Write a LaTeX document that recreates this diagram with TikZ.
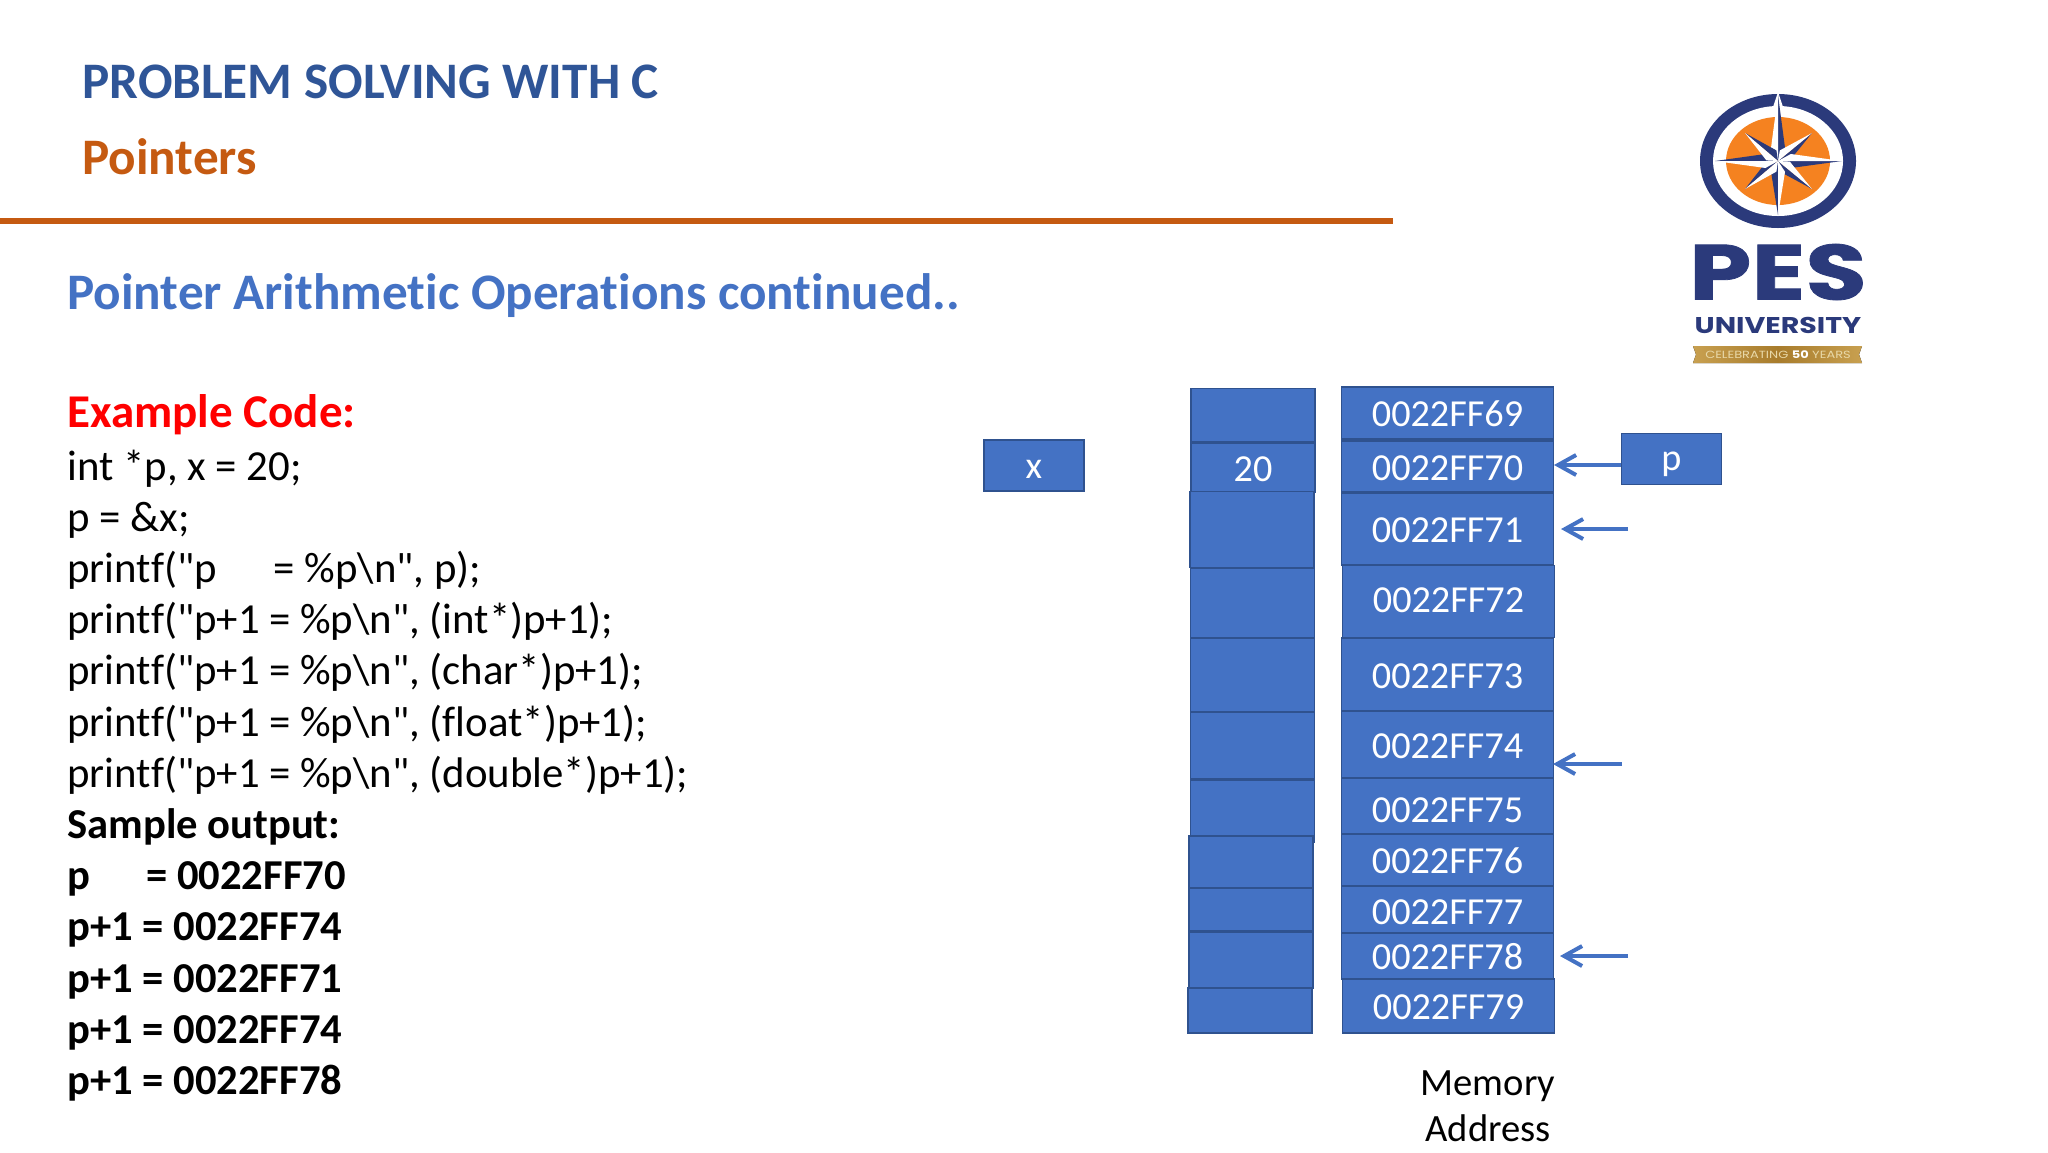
\documentclass[tikz,border=0pt]{standalone}
\usepackage{fontspec}
\newfontfamily\bodyfont{Carlito}[Ligatures=NoCommon]
\newfontfamily\pesfont{Poppins}[FakeStretch=1.28,FakeBold=1]
\newfontfamily\univfont{Poppins}[FakeStretch=1.25]
\usetikzlibrary{arrows.meta}
\definecolor{cTitle}{HTML}{2F5597}
\definecolor{cSub}{HTML}{C55A11}
\definecolor{cHead}{HTML}{4472C4}
\definecolor{cCell}{HTML}{4472C4}
\definecolor{cEdge}{HTML}{2F528F}
\definecolor{cNavy}{HTML}{2B3A7B}
\definecolor{cOrange}{HTML}{F58220}
\definecolor{cGoldA}{HTML}{C8A050}
\definecolor{cGoldB}{HTML}{A87C2C}
\definecolor{cGoldC}{HTML}{E8D8A8}
\tikzset{
  cell/.style={draw=cEdge, line width=0.6pt, fill=cCell, text=white, inner sep=0pt, text height=13.5pt, text depth=0pt,
    font=\bodyfont\fontsize{19.1}{23}\selectfont},
  val/.style={cell, minimum width=62pt},
  addr/.style={cell, minimum width=106pt},
  line/.style={anchor=base west, inner sep=0pt, font=\bodyfont\fontsize{21.4}{25}\selectfont},
  bline/.style={line, font=\bodyfont\fontsize{21.3}{25}\selectfont\bfseries},
  banner/.style={line, font=\bodyfont\fontsize{25.6}{30}\selectfont\bfseries},
  flow/.style={draw=cHead, line width=2pt, -{Straight Barb[length=9pt,width=10pt,line width=2pt]}},
}
\begin{document}
\begin{tikzpicture}[x=0.5pt, y=-0.5pt]
\useasboundingbox (0,0) rectangle (2048,1152);
% header
\node[banner, text=cTitle] (title) at (82, 98) {PROBLEM SOLVING WITH C};
\node[banner, text=cSub] (sub) at (82, 174.5) {Pointers};
\fill[cSub] (0, 218) rectangle (1393, 224);
\node[banner, text=cHead] (head) at (67, 309) {Pointer Arithmetic Operations continued..};

% code
\node[bline, text=red, font=\bodyfont\fontsize{23.5}{28}\selectfont\bfseries] (ex) at (67, 427) {Example Code:};
\node[line] (c1) at (67, 480) {int *p, x = 20;};
\node[line] (c2) at (67, 531) {p = \&x;};
\node[line] (c3) at (67, 582.5) {printf("p\hspace{28.5pt}= \%p\textbackslash n", p);};
\node[line] (c4) at (67, 633.5) {printf("p+1 = \%p\textbackslash n", (int*)p+1);};
\node[line] (c5) at (67, 684.5) {printf("p+1 = \%p\textbackslash n", (char*)p+1);};
\node[line] (c6) at (67, 736.5) {printf("p+1 = \%p\textbackslash n", (float*)p+1);};
\node[line] (c7) at (67, 787.5) {printf("p+1 = \%p\textbackslash n", (double*)p+1);};
\node[bline] (s0) at (67, 838.5) {Sample output:};
\node[bline] (s1) at (67, 889.5) {p\hspace{28pt}= 0022FF70};
\node[bline] (s2) at (67, 940.5) {p+1 = 0022FF74};
\node[bline] (s3) at (67, 992) {p+1 = 0022FF71};
\node[bline] (s4) at (67, 1043.5) {p+1 = 0022FF74};
\node[bline] (s5) at (67, 1094.5) {p+1 = 0022FF78};

% variable boxes
\node[cell, minimum width=50pt, minimum height=25.5pt, text height=12.5pt] (x) at (1034, 465.5) {x};
\node[cell, minimum width=50pt, minimum height=25.5pt, text height=11.5pt] (p) at (1671.5, 459) {p};

% values column
\node[val, minimum height=26.5pt] (v0) at (1253, 415) {};
\node[val, minimum height=24.5pt] (v1) at (1253, 467.5) {20};
\node[val, minimum height=38pt] (v2) at (1252, 529.5) {};
\node[val, minimum height=35pt] (v3) at (1252.5, 603) {};
\node[val, minimum height=37pt] (v4) at (1252.5, 675) {};
\node[val, minimum height=31pt] (v5) at (1252.5, 811) {};
\node[val, minimum height=33.5pt] (v6) at (1252.5, 745.5) {};
\node[val, minimum height=26pt] (v7) at (1251, 862) {};
\node[val, minimum height=21.5pt] (v8) at (1251, 909.5) {};
\node[val, minimum height=28pt] (v9) at (1251, 960) {};
\node[val, minimum height=22.5pt] (v10) at (1250, 1010.5) {};

% address column
\node[addr, minimum height=26pt] (a0) at (1447.5, 413) {0022FF69};
\node[addr, minimum height=25.5pt] (a1) at (1447.5, 466.5) {0022FF70};
\node[addr, minimum height=36pt] (a2) at (1447.5, 529) {0022FF71};
\node[addr, minimum height=36pt, text height=11pt] (a3) at (1448.5, 601.5) {0022FF72};
\node[addr, minimum height=36.5pt] (a4) at (1447.5, 674.5) {0022FF73};
\node[addr, minimum height=33.5pt] (a5) at (1447.5, 744.5) {0022FF74};
\node[addr, minimum height=28pt, text height=16pt] (a6) at (1447.5, 806) {0022FF75};
\node[addr, minimum height=26pt] (a7) at (1447.5, 860) {0022FF76};
\node[addr, minimum height=23.5pt, text height=14.6pt] (a8) at (1447.5, 909.5) {0022FF77};
\node[addr, minimum height=23pt] (a9) at (1447.5, 956) {0022FF78};
\node[addr, minimum height=27pt] (a10) at (1448.5, 1006) {0022FF79};

\node[font=\bodyfont\fontsize{19.3}{23}\selectfont, align=center, inner sep=0pt] (mem) at (1488, 1106) {Memory\\Address};

% arrows
\coordinate (f1) at (1628, 529);
\coordinate (f2) at (1622, 764);
\coordinate (f3) at (1628, 956);
\coordinate (t1) at (1561, 529);
\coordinate (t2) at (1553, 764);
\coordinate (t3) at (1560, 956);
\coordinate (t0) at (1554, 465);
\draw[flow] (p.west |- t0) -- (t0);
\draw[flow] (f1) -- (t1);
\draw[flow] (f2) -- (t2);
\draw[flow] (f3) -- (t3);

% logo
\fill[cNavy] (1778, 161) ellipse [x radius=78, y radius=67];
\fill[white] (1778, 161) ellipse [x radius=65, y radius=55];
\fill[cOrange] (1778, 161) ellipse [x radius=52, y radius=44];
\fill[white] (1778, 92) -- (1783, 107) -- (1773, 107) -- cycle;
\foreach \tx/\ty/\bx/\by in {1778/95/7/0, 1812/133/5/5, 1842/161/0/7, 1812/189/-5/5, 1778/215/-7/0, 1745/189/-5/-5, 1715/161/0/-7, 1745/133/5/-5} {
  \fill[cNavy] (\tx, \ty) -- (1778, 161) -- (1778+\bx+\tx*0.2-1778*0.2, 161+\by+\ty*0.2-161*0.2) -- cycle;
  \fill[white] (\tx, \ty) -- (1778, 161) -- (1778-\bx+\tx*0.2-1778*0.2, 161-\by+\ty*0.2-161*0.2) -- cycle;
}
\node[inner sep=0pt, text=cNavy, font=\pesfont\fontsize{39}{40}\selectfont\bfseries] (pes) at (1778, 272) {PES};
\node[inner sep=0pt, text=cNavy, font=\univfont\fontsize{11.4}{14}\selectfont\bfseries] (univ) at (1778, 325) {UNIVERSITY};
\fill[left color=cGoldA, right color=cGoldA, middle color=cGoldB] (1693, 346) -- (1862, 346) -- (1859, 354.5) -- (1862, 363) -- (1693, 363) -- (1696, 354.5) -- cycle;
\node[inner sep=0pt, text=cGoldC, font=\univfont\fontsize{5.2}{6}\selectfont] (gold) at (1778, 354.5) {CELEBRATING \textcolor{white}{\textbf{50}} YEARS};
\end{tikzpicture}
\end{document}
